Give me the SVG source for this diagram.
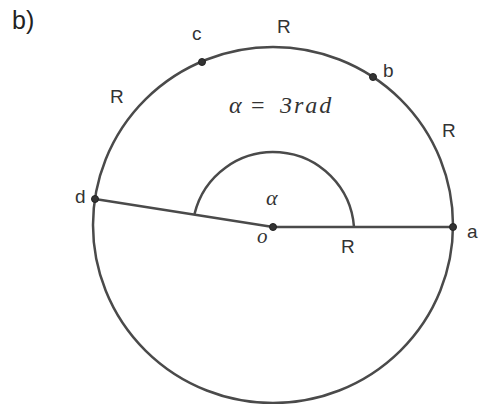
<svg xmlns="http://www.w3.org/2000/svg" width="479" height="404" viewBox="0 0 479 404">
<style>
.ln{fill:none;stroke:#4a4a4a;stroke-width:2.5;}
.pt{fill:#333;stroke:#222;stroke-width:1;}
.lb{font-family:"Liberation Sans",Arial,sans-serif;fill:#222;}
.sm{font-size:19px;fill:#333;}
.mt{font-family:"Liberation Serif","Times New Roman",serif;font-style:italic;fill:#333;}
.eq{font-family:"Liberation Serif","Times New Roman",serif;font-style:normal;fill:#333;}
</style>
<rect width="479" height="404" fill="#fff"/>
<text class="lb" x="12" y="29" font-size="25">b)</text>
<g id="circle">
<ellipse class="ln" cx="273" cy="225" rx="180" ry="178"/>
</g>
<g id="connectors">
<line class="ln" x1="273" y1="227" x2="453" y2="227"/>
<line class="ln" x1="273" y1="227" x2="95" y2="199"/>
<path class="ln" d="M354 227 A81 81 0 0 0 194.5 214"/>
</g>
<g id="node-o"><circle class="pt" cx="273" cy="227" r="3.5"/><text class="mt" x="257" y="243" font-size="21">o</text></g>
<g id="node-a"><circle class="pt" cx="453" cy="227" r="3.5"/><text class="lb sm" x="467" y="238">a</text></g>
<g id="node-b"><circle class="pt" cx="373" cy="77" r="3.5"/><text class="lb sm" x="383" y="77">b</text></g>
<g id="node-c"><circle class="pt" cx="202" cy="62" r="3.5"/><text class="lb sm" x="192" y="40">c</text></g>
<g id="node-d"><circle class="pt" cx="95" cy="199" r="3.5"/><text class="lb sm" x="75" y="203">d</text></g>
<g id="labels">
<text class="lb sm" x="277" y="33">R</text>
<text class="lb sm" x="110" y="103">R</text>
<text class="lb sm" x="442" y="137">R</text>
<text class="lb sm" x="341" y="253">R</text>
<text class="mt" x="266" y="205" font-size="22">α</text>
<text class="mt" x="229" y="113" font-size="24"><tspan>α</tspan><tspan class="eq" x="251">=</tspan><tspan x="280" letter-spacing="2">3rad</tspan></text>
</g>
</svg>
